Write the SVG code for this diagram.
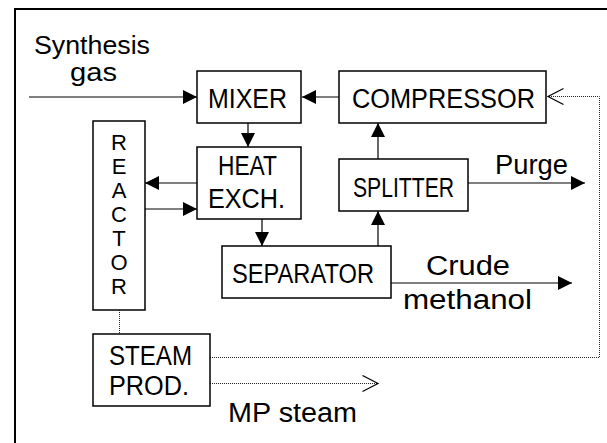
<svg xmlns="http://www.w3.org/2000/svg" width="607" height="443" viewBox="0 0 607 443">
<defs>
<style>
.box{fill:#fff;stroke:#000;stroke-width:1.5}
.t{font-family:"Liberation Sans",Arial,sans-serif;font-size:27px;fill:#000}
.s{font-size:25px}
.r{font-family:"Liberation Sans",Arial,sans-serif;font-size:22px;fill:#000;text-anchor:middle}
.ln{fill:none;stroke:#000;stroke-width:1.2}
.dot{fill:none;stroke:#222;stroke-width:1;stroke-dasharray:1 1}
</style>
<marker id="ah" markerUnits="userSpaceOnUse" markerWidth="15" markerHeight="15" refX="14" refY="7" orient="auto">
<path d="M0,0 L14,7 L0,14 z" fill="#000"/>
</marker>
<marker id="oh" markerUnits="userSpaceOnUse" markerWidth="18" markerHeight="18" refX="16" refY="8.5" orient="auto">
<path d="M0.5,0.5 L16,8.5 L0.5,16.5" fill="none" stroke="#000" stroke-width="1.2"/>
</marker>
</defs>
<rect width="607" height="443" fill="#fff"/>
<path d="M15,443 V9 H607" fill="none" stroke="#000" stroke-width="2"/>

<g id="connectors">
<path class="ln" d="M29,97 H197" marker-end="url(#ah)"/>
<path class="ln" d="M339,97 H302" marker-end="url(#ah)"/>
<path class="ln" d="M248,123 V147" marker-end="url(#ah)"/>
<path class="ln" d="M197,183 H145" marker-end="url(#ah)"/>
<path class="ln" d="M145,209 H197" marker-end="url(#ah)"/>
<path class="ln" d="M262,219 V246" marker-end="url(#ah)"/>
<path class="ln" d="M378,246 V211" marker-end="url(#ah)"/>
<path class="ln" d="M378,159 V123" marker-end="url(#ah)"/>
<path class="ln" d="M468,183 H585" marker-end="url(#ah)"/>
<path class="ln" d="M391,283 H572" marker-end="url(#ah)"/>
<path class="dot" d="M210,357.5 H599.5 V96.5 H548" marker-end="url(#oh)"/>
<path class="dot" d="M210,383.5 H378" marker-end="url(#oh)"/>
<path class="dot" d="M119.5,310 V334"/>
</g>

<g id="labels">
<text class="t s" x="34" y="54" textLength="116" lengthAdjust="spacingAndGlyphs">Synthesis</text>
<text class="t s" x="70" y="81" textLength="47" lengthAdjust="spacingAndGlyphs">gas</text>
<text class="t" x="495" y="174" textLength="73" lengthAdjust="spacingAndGlyphs">Purge</text>
<text class="t" x="426" y="275" textLength="84" lengthAdjust="spacingAndGlyphs">Crude</text>
<text class="t" x="403" y="309" textLength="129" lengthAdjust="spacingAndGlyphs">methanol</text>
<text class="t" x="228" y="422" textLength="129" lengthAdjust="spacingAndGlyphs">MP steam</text>
</g>

<g id="mixer">
<rect class="box" x="197" y="71" width="104" height="52"/>
<text class="t" x="208" y="108" textLength="79" lengthAdjust="spacingAndGlyphs">MIXER</text>
</g>
<g id="heat-exch">
<rect class="box" x="197" y="147" width="104" height="72"/>
<text class="t" x="218" y="175" textLength="59" lengthAdjust="spacingAndGlyphs">HEAT</text>
<text class="t" x="208" y="208" textLength="77" lengthAdjust="spacingAndGlyphs">EXCH.</text>
</g>
<g id="reactor">
<rect class="box" x="93" y="121" width="52" height="189"/>
<text class="r" x="119" y="150">R</text>
<text class="r" x="119" y="174">E</text>
<text class="r" x="119" y="198">A</text>
<text class="r" x="119" y="222">C</text>
<text class="r" x="119" y="246">T</text>
<text class="r" x="119" y="270">O</text>
<text class="r" x="119" y="294">R</text>
</g>
<g id="compressor">
<rect class="box" x="339" y="71" width="207" height="52"/>
<text class="t" x="352" y="108" textLength="183" lengthAdjust="spacingAndGlyphs">COMPRESSOR</text>
</g>
<g id="splitter">
<rect class="box" x="339" y="159" width="129" height="52"/>
<text class="t" x="353" y="197" textLength="101" lengthAdjust="spacingAndGlyphs">SPLITTER</text>
</g>
<g id="separator">
<rect class="box" x="222" y="246" width="169" height="52"/>
<text class="t" x="232" y="283" textLength="142" lengthAdjust="spacingAndGlyphs">SEPARATOR</text>
</g>
<g id="steam-prod">
<rect class="box" x="93" y="334" width="117" height="72"/>
<text class="t" x="109" y="365" textLength="83" lengthAdjust="spacingAndGlyphs">STEAM</text>
<text class="t" x="109" y="395" textLength="80" lengthAdjust="spacingAndGlyphs">PROD.</text>
</g>
</svg>
